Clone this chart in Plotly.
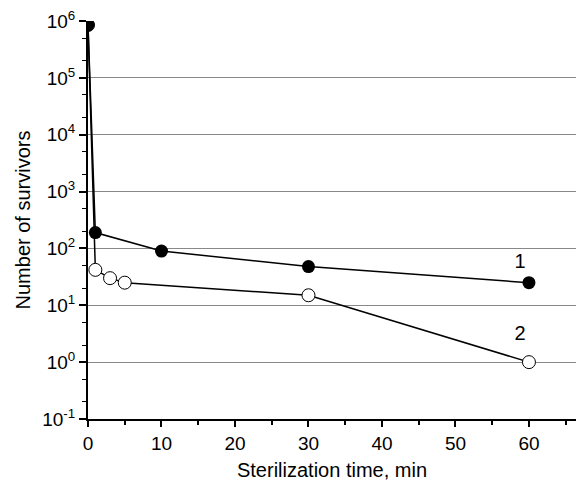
import plotly.graph_objects as go

# Series 1 (filled circles)
t1 = [0, 1, 10, 30, 60]
n1 = [8.5e5, 190, 90, 48, 25]
# Series 2 (open circles)
t2 = [0, 1, 3, 5, 30, 60]
n2 = [8.5e5, 42, 30, 25, 15, 1]

y_exp = [-1, 0, 1, 2, 3, 4, 5, 6]
y_tickvals = [10 ** e for e in y_exp]
y_ticktext = ["10<sup>%d</sup>" % e for e in y_exp]

labels_x = [58.8, 58.8]
labels_y = [56, 3.0]
labels_text = ["1", "2"]

font_family = "Liberation Sans, Arial, sans-serif"
x_range = [0, 66.4]
y_range = [-1, 6]

fig = go.Figure()
fig.add_trace(go.Scatter(
    x=t2, y=n2, mode="lines+markers",
    line=dict(color="black", width=1.5),
    marker=dict(symbol="circle", size=13, color="white",
                line=dict(color="black", width=1)),
    showlegend=False))
fig.add_trace(go.Scatter(
    x=t1, y=n1, mode="lines+markers",
    line=dict(color="black", width=1.5),
    marker=dict(symbol="circle", size=13, color="black"),
    showlegend=False))
fig.add_trace(go.Scatter(
    x=labels_x, y=labels_y, mode="text", text=labels_text,
    textfont=dict(size=20, color="black", family=font_family),
    showlegend=False))

fig.update_layout(
    width=576, height=486,
    margin=dict(l=88, r=0, t=21, b=67),
    paper_bgcolor="white", plot_bgcolor="white",
    font=dict(family=font_family, size=19, color="black"),
    xaxis=dict(
        range=x_range, tickmode="linear", tick0=0, dtick=10,
        ticks="outside", ticklen=6, tickwidth=1.5,
        tickcolor="black", showgrid=False, zeroline=False,
        showline=True, linecolor="black", linewidth=2,
        minor=dict(dtick=5, tick0=0, ticks="outside", ticklen=4,
                   tickwidth=1.5, tickcolor="black", showgrid=False),
        title=dict(text="Sterilization time, min", standoff=10,
                   font=dict(size=20)),
    ),
    yaxis=dict(
        type="log", range=y_range, tickmode="array",
        tickvals=y_tickvals, ticktext=y_ticktext,
        ticks="outside", ticklen=7, tickwidth=1.5, tickcolor="black",
        showgrid=True, gridcolor="#888888", gridwidth=1, zeroline=False,
        showline=True, linecolor="black", linewidth=2,
        minor=dict(dtick="D2", ticks="outside", ticklen=4,
                   tickwidth=1, tickcolor="black", showgrid=False),
        title=dict(text="Number of survivors", standoff=6,
                   font=dict(size=20)),
    ),
)

fig.write_html("out.html")
